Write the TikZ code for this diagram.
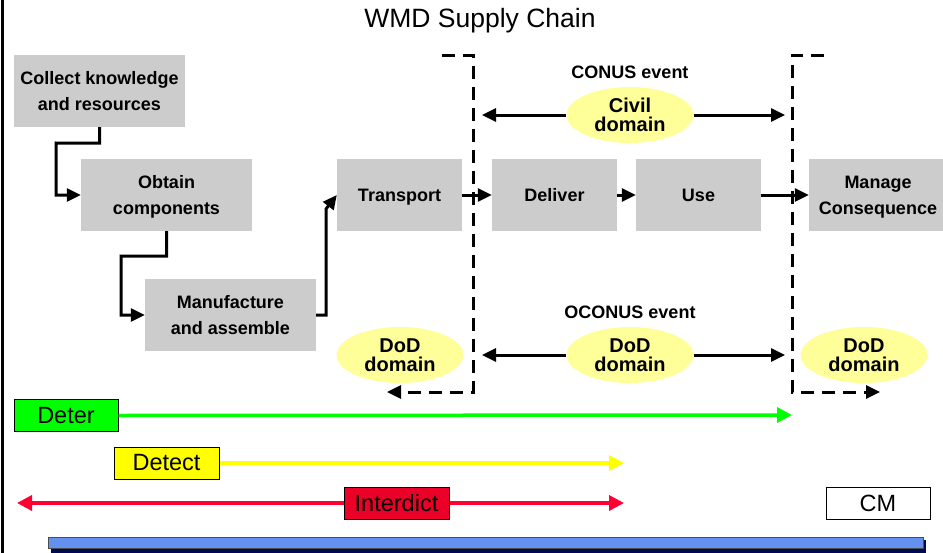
\documentclass[tikz,border=0pt]{standalone}
\usepackage{fontspec}
\setmainfont{Liberation Sans}
\usetikzlibrary{arrows.meta,shapes.geometric}
\definecolor{boxgray}{RGB}{204,204,204}
\definecolor{ellyellow}{RGB}{255,255,153}
\definecolor{dgreen}{RGB}{0,255,0}
\definecolor{dyellow}{RGB}{255,255,0}
\definecolor{dred}{RGB}{255,0,51}
\definecolor{boxred}{RGB}{235,0,40}
\definecolor{barblue}{RGB}{100,145,240}
\definecolor{barnavy}{RGB}{0,10,80}
\tikzset{
  stepbox/.style={fill=boxgray, minimum height=72pt, inner sep=0pt, align=center,
    text depth=-3pt, font=\fontsize{18}{26}\selectfont\bfseries},
  domoval/.style={ellipse, fill=ellyellow, minimum width=127pt, minimum height=56pt,
    inner sep=0pt, align=center, font=\fontsize{20}{19}\selectfont\bfseries},
  conn/.style={line width=3pt, -{Triangle[length=14pt,width=13pt]}},
  bracket/.style={line width=3pt, dash pattern=on 13pt off 8pt, -{Triangle[length=14pt,width=13pt]}},
  tag/.style={draw=black, line width=1pt, minimum height=32pt, minimum width=104pt,
    inner sep=0pt, font=\fontsize{23.5}{24}\selectfont},
  evt/.style={font=\fontsize{18}{20}\selectfont\bfseries},
  carrow/.style={line width=3.5pt, -{Triangle[length=15pt,width=15pt]}}
}
\begin{document}
\begin{tikzpicture}[x=1pt,y=-1pt]
\useasboundingbox (0,0) rectangle (943,552);
% frame line
\draw[line width=3pt] (2,-2) -- (2,554);
% title
\node (title) at (480,21) {\fontsize{26.5}{28}\selectfont WMD Supply Chain};
% boxes
\node[stepbox, minimum width=171pt] (collect) at (99.5,91) {Collect knowledge\\and resources};
\node[stepbox, minimum width=171pt] (obtain) at (166.5,195) {Obtain\\components};
\node[stepbox, minimum width=171pt] (manuf) at (230.5,315) {Manufacture\\and assemble};
\node[stepbox, minimum width=125pt] (transport) at (399.5,195) {Transport};
\node[stepbox, minimum width=125pt] (deliver) at (554.5,195) {Deliver};
\node[stepbox, minimum width=125pt] (use) at (698.5,195) {Use};
\node[stepbox, minimum width=138pt] (manage) at (878,195) {Manage\\Consequence};
% connectors
\draw[conn] (collect.south) -- ++(0,16) -- (56,143) |- (obtain.west);
\draw[conn] (obtain.south) -- ++(0,25) -- (121,256) |- (manuf.west);
\draw[conn] (manuf.east) -- (326,315) -- (326,209) -- (transport.west);
\draw[conn] (transport.east) -- (deliver.west);
\draw[conn] (deliver.east) -- (use.west);
\draw[conn] (use.east) -- (manage.west);
% dashed brackets
\coordinate (lb1) at (442,55);
\coordinate (lb2) at (473,55);
\coordinate (lb3) at (473,392);
\coordinate (lb4) at (387,392);
\draw[bracket] (lb1) -- (lb2) -- (lb3) -- (lb4);
\coordinate (rb1) at (824,55);
\coordinate (rb2) at (792,55);
\coordinate (rb3) at (792,392);
\coordinate (rb4) at (880,392);
\draw[bracket] (rb1) -- (rb2) -- (rb3) -- (rb4);
% events and domains
\node[evt] (conus) at (630,72) {CONUS event};
\node[evt] (oconus) at (630,312) {OCONUS event};
\node[domoval] (civil) at (630,115) {Civil\\domain};
\node[domoval] (dodl) at (400,355) {DoD\\domain};
\node[domoval] (dodc) at (630,355) {DoD\\domain};
\node[domoval] (dodr) at (864,355) {DoD\\domain};
\coordinate (cl) at (482,115);
\coordinate (cr) at (785,115);
\coordinate (ol) at (482,355);
\coordinate (or) at (785,355);
\draw[conn] (civil.west) -- (cl);
\draw[conn] (civil.east) -- (cr);
\draw[conn] (dodc.west) -- (ol);
\draw[conn] (dodc.east) -- (or);
% coloured strategy arrows
\node[tag, fill=dgreen] (deter) at (66,415.5) {Deter};
\node[tag, fill=dyellow, minimum width=105pt] (detect) at (166.5,463) {Detect};
\node[tag, fill=boxred, minimum width=105pt] (interdict) at (396.5,503) {Interdict};
\node[tag, fill=white] (cm) at (878,503) {CM};
\coordinate (de) at (792,415);
\coordinate (dt) at (624,463);
\coordinate (il) at (17,503);
\coordinate (ir) at (624,503);
\draw[carrow, dgreen] (deter.east) -- (de);
\draw[carrow, dyellow] (detect.east) -- (dt);
\draw[carrow, dred] (interdict.west) -- (il);
\draw[carrow, dred] (interdict.east) -- (ir);
% bottom bar
\fill[barnavy] (51,540) rectangle (926,554);
\draw[fill=barblue, draw=black!70, line width=1pt] (48,537) rectangle (923,548);
\end{tikzpicture}
\end{document}
